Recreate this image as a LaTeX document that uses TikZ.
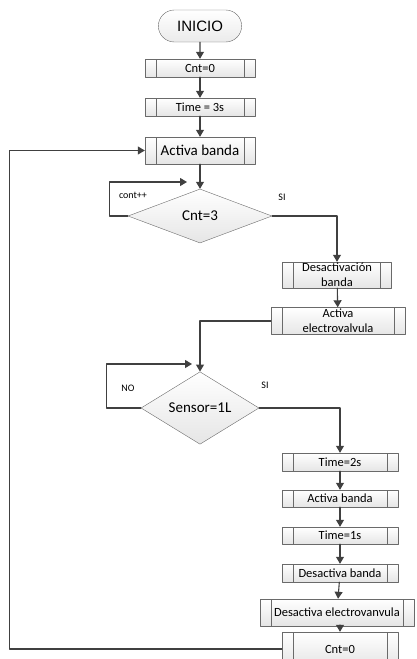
\documentclass[tikz,border=0pt]{standalone}
\usepackage{fontspec}
\setmainfont{Carlito}
\newfontfamily\arialfont{Liberation Sans}
\usetikzlibrary{shapes.geometric,shapes.misc,arrows.meta}
\definecolor{flowline}{HTML}{404040}
\definecolor{boxline}{HTML}{6A6A6A}

\begin{document}
\begin{tikzpicture}[x=1pt, y=-1pt, line cap=round, line join=round,
    proc/.style={draw=boxline, top color=white, bottom color=black!10, inner sep=0pt,
        minimum height=18pt, align=center, font=\fontsize{12.5}{15}\selectfont,
        path picture={\draw[boxline]
            ([xshift=11pt]path picture bounding box.north west) -- ([xshift=11pt]path picture bounding box.south west)
            ([xshift=-11pt]path picture bounding box.north east) -- ([xshift=-11pt]path picture bounding box.south east);}},
    decision/.style={diamond, draw=boxline, top color=white, bottom color=black!10, inner sep=0pt,
        font=\fontsize{15}{18}\selectfont},
    flow/.style={draw=flowline, line width=1.1pt, -{Triangle[width=8pt,length=7pt]}},
    lbl/.style={font=\fontsize{10}{12}\selectfont}]

    \useasboundingbox (0,0) rectangle (416,659);

    \node[rounded rectangle, draw=boxline, top color=white, bottom color=black!8, minimum width=90pt,
        minimum height=32pt, font=\arialfont\fontsize{15}{18}\selectfont] (inicio) at (200,26) {INICIO};
    \node[proc, minimum width=110pt] (cnt0) at (200,68) {Cnt=0};
    \node[proc, minimum width=110pt] (time3) at (200,107) {Time = 3s};
    \node[proc, minimum width=110pt, minimum height=27pt, font=\fontsize{15}{18}\selectfont] (activa) at (200,150.5) {Activa banda};

    \node[decision, minimum width=144pt, minimum height=54pt] (cnt3) at (200,216) {Cnt=3};
    \coordinate (contin) at (187,182);

    \node[proc, minimum width=109pt, minimum height=26pt] (desact) at (337,275) {Desactivación\\banda};
    \node[proc, minimum width=134pt, minimum height=27pt] (electro) at (338,321) {Activa\\electrovalvula};

    \node[decision, minimum width=118pt, minimum height=54pt] (sensor) at (200,408) {Sensor=1L};
    \coordinate (noin) at (192,364);

    \node[proc, minimum width=116pt] (time2) at (340,462) {Time=2s};
    \node[proc, minimum width=116pt, minimum height=17pt] (activab) at (340,498.5) {Activa banda};
    \node[proc, minimum width=116pt, minimum height=17pt] (time1) at (340,535.5) {Time=1s};
    \node[proc, minimum width=116pt] (desactb) at (340,573) {Desactiva banda};
    \node[proc, minimum width=154pt, minimum height=27pt] (desactev) at (337,612.5) {Desactiva electrovanvula};
    \node[proc, minimum width=116pt, minimum height=34pt] (cntfin) at (340,649) {Cnt=0};

    \draw[flow] (inicio) -- (cnt0);
    \draw[flow] (cnt0) -- (time3);
    \draw[flow] (time3) -- (activa);
    \draw[flow] (activa) -- (cnt3);
    \draw[flow] (cnt3.west) -- ++(-18,0) |- (contin);
    \draw[flow] (cnt3.east) -| (desact.north);
    \draw[flow] (desact) -- (electro);
    \draw[flow] (electro.west) -| (sensor.north);
    \draw[flow] (sensor.west) -- ++(-34,0) |- (noin);
    \draw[flow] (sensor.east) -| (time2.north);
    \draw[flow] (time2) -- (activab);
    \draw[flow] (activab) -- (time1);
    \draw[flow] (time1) -- (desactb);
    \draw[flow] (desactb) -- (desactev);
    \draw[flow] (desactev.south -| cntfin.north) -- (cntfin.north);
    \draw[flow] (cntfin.west) -- ++(-272,0) |- (activa.west);

    \node[lbl] (lcont) at (133,195) {cont++};
    \node[lbl] (lsi1) at (282,197) {SI};
    \node[lbl] (lno) at (128,388) {NO};
    \node[lbl] (lsi2) at (265,385) {SI};

\end{tikzpicture}
\end{document}
